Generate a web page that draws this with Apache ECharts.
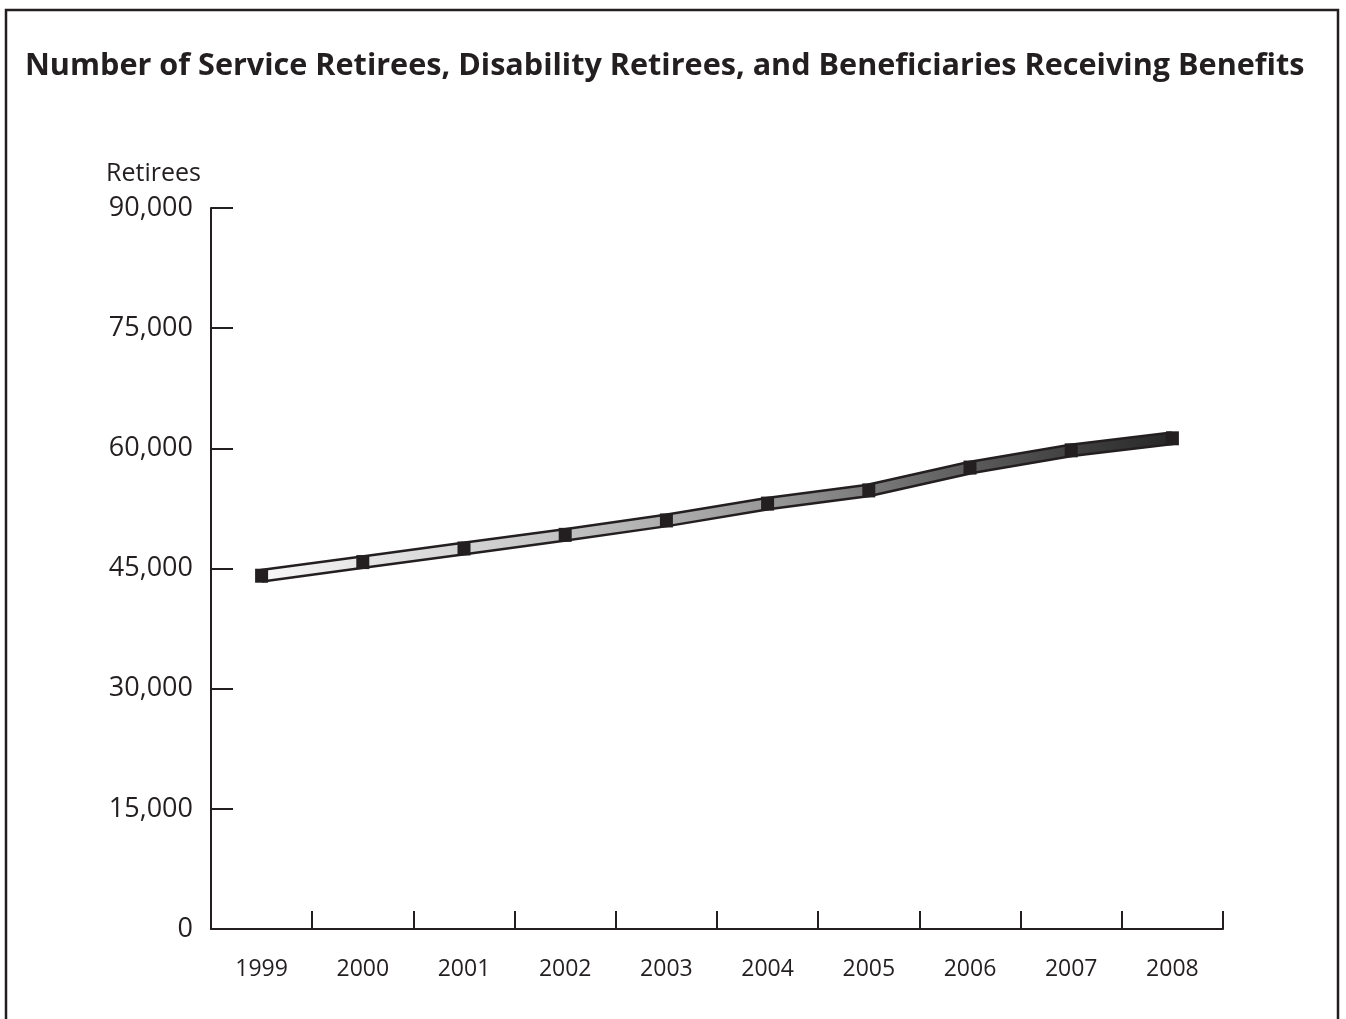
<!DOCTYPE html>
<html>
<head>
<meta charset="utf-8">
<title>Retirees receiving benefits</title>
<script src="https://cdn.jsdelivr.net/npm/echarts@6/dist/echarts.min.js"></script>
<style>
  html, body { margin: 0; padding: 0; background: #fff; }
  #chart { width: 1346px; height: 1019px; }
</style>
</head>
<body>
<div id="chart"></div>
<script>
// values
const years = ['1999', '2000', '2001', '2002', '2003', '2004', '2005', '2006', '2007', '2008']
const retirees = [44100, 45800, 47500, 49200, 51000, 53100, 54750, 57600, 59750, 61250]
const yTicks = [0, 15000, 30000, 45000, 60000, 75000, 90000]

const ink = '#231f20'
const chart = echarts.init(document.getElementById('chart'))

chart.setOption({
  backgroundColor: '#fff',
  animation: false,
  textStyle: { fontFamily: 'Open Sans', color: ink },
  title: {
    text: 'Number of Service Retirees, Disability Retirees, and Beneficiaries Receiving Benefits',
    left: 20,
    top: 46,
    textStyle: { fontFamily: 'Open Sans', fontWeight: 'bold', fontSize: 30.6, color: ink }
  },
  graphic: [
    {
      type: 'rect',
      shape: { x: 6, y: 10, width: 1332, height: 1030 },
      style: { fill: 'none', stroke: ink, lineWidth: 2.5 },
      silent: true
    }
  ],
  grid: { left: 211, right: 123, top: 208, bottom: 90 },
  xAxis: {
    type: 'category',
    data: years,
    boundaryGap: true,
    axisLine: { lineStyle: { color: ink, width: 2 } },
    axisTick: { show: true, alignWithLabel: false, inside: true, length: 18, lineStyle: { color: ink, width: 2 } },
    axisLabel: { color: ink, fontSize: 23, margin: 29 },
    splitLine: { show: false }
  },
  yAxis: {
    type: 'value',
    min: yTicks[0],
    max: yTicks[yTicks.length - 1],
    interval: 15000,
    name: 'Retirees',
    nameLocation: 'end',
    nameGap: 22,
    nameTextStyle: { color: ink, fontSize: 25, align: 'right', padding: [0, 10, 0, 0] },
    axisLine: { show: true, lineStyle: { color: ink, width: 2 } },
    axisTick: { show: true, inside: true, length: 22, lineStyle: { color: ink, width: 2 } },
    axisLabel: {
      color: ink,
      fontSize: 27,
      margin: 18,
      formatter: v => v.toLocaleString('en-US')
    },
    splitLine: { show: false }
  },
  series: [
    {
      // dark outline of the ribbon
      type: 'line',
      data: retirees,
      symbol: 'none',
      z: 2,
      lineStyle: { color: ink, width: 14, cap: 'butt', join: 'miter' }
    },
    {
      // shaded fill of the ribbon, light to dark
      type: 'line',
      data: retirees,
      z: 3,
      symbol: 'rect',
      symbolSize: [13, 14],
      itemStyle: { color: ink, borderWidth: 0 },
      lineStyle: {
        width: 9,
        cap: 'butt',
        join: 'miter',
        color: new echarts.graphic.LinearGradient(0, 0, 1, 0, [
          { offset: 0, color: '#f8f8f8' },
          { offset: 0.3, color: '#c8c8c8' },
          { offset: 0.55, color: '#9a9a9a' },
          { offset: 0.8, color: '#555555' },
          { offset: 1, color: '#262626' }
        ])
      }
    }
  ]
})
</script>
</body>
</html>
